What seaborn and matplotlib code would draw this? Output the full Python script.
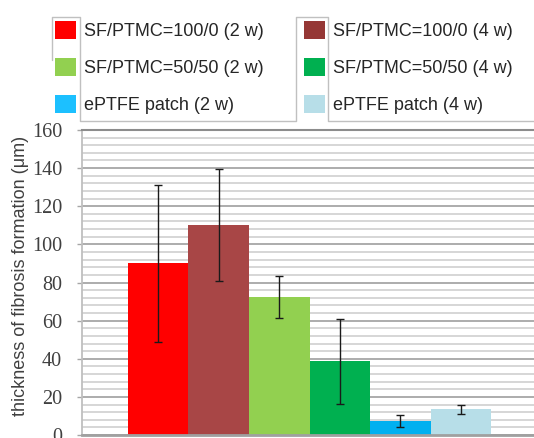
import matplotlib
matplotlib.use("Agg")
import matplotlib.pyplot as plt
from matplotlib.patches import Patch
from matplotlib.lines import Line2D
from matplotlib.ticker import MultipleLocator
import seaborn as sns
import pandas as pd

# Fibrosis thickness by implant material and time point
groups = [
    "SF/PTMC=100/0 (2 w)",
    "SF/PTMC=100/0 (4 w)",
    "SF/PTMC=50/50 (2 w)",
    "SF/PTMC=50/50 (4 w)",
    "ePTFE patch (2 w)",
    "ePTFE patch (4 w)",
]
thickness = [90.0, 110.2, 72.4, 38.8, 7.3, 13.6]
sd = [41.0, 29.5, 11.0, 22.3, 3.2, 2.4]
y_ticks = [0, 20, 40, 60, 80, 100, 120, 140, 160]

bar_colors = ["#FF0000", "#A84646", "#92D050", "#00B050", "#00B0F0", "#B7DEE8"]
legend_colors = ["#FF0000", "#953735", "#92D050", "#00B050", "#1CC0FF", "#B7DEE8"]

sns.set_style("white")
plt.rcParams["font.family"] = ["Liberation Sans", "DejaVu Sans"]

W, H = 534, 438
fig = plt.figure(figsize=(W / 100, H / 100), dpi=100)
ax = fig.add_axes([82 / W, 3 / H, 455 / W, 305 / H])

df = pd.DataFrame({"group": groups, "thickness": thickness})
sns.barplot(data=df, x="group", y="thickness", hue="group", order=groups,
            hue_order=groups, palette=bar_colors, saturation=1, width=1.0,
            errorbar=None, legend=False, linewidth=0, ax=ax)
ax.errorbar(range(len(groups)), thickness, yerr=sd, fmt="none",
            ecolor="#1a1a1a", elinewidth=1.0, capsize=2.8, capthick=1.0, zorder=5)

ax.set_xlim(-1.26, len(groups) - 1 + 1.26)
ax.set_ylim(0, 160)
ax.set_yticks(y_ticks)
ax.yaxis.set_minor_locator(MultipleLocator(4))
ax.set_xticks([])
ax.set_xlabel("")
ax.set_axisbelow(True)
ax.grid(which="major", axis="y", color="#a6a6a6", lw=1.3)
ax.grid(which="minor", axis="y", color="#d6d6d6", lw=1.4)
ax.tick_params(axis="y", which="major", length=5 * 0.72, width=1,
               color="#a6a6a6", pad=10.8, labelsize=14.5, labelcolor="#404040",
               left=True)
ax.tick_params(axis="y", which="minor", length=0)
for lab in ax.get_yticklabels():
    lab.set_fontfamily(["Liberation Serif", "DejaVu Serif"])

ax.spines["right"].set_visible(False)
ax.spines["top"].set_color("#8c8c8c")
ax.spines["top"].set_linewidth(1.5)
ax.spines["left"].set_color("#bfbfbf")
ax.spines["left"].set_linewidth(1.3)
ax.spines["bottom"].set_color("#a0a0a0")
ax.spines["bottom"].set_linewidth(2)

ax.set_ylabel("thickness of fibrosis formation (μm)", fontsize=13, color="#404040")
ax.yaxis.set_label_coords((29 - 82) / 455, 0.52)

# Two legend columns: 2-week groups on the left, 4-week groups on the right
fs = 13
hsz = 21 / (fs * 100 / 72)
for k, x0 in ((0, 55), (1, 304)):
    handles = [Patch(facecolor=c, edgecolor="none") for c in legend_colors[k::2]]
    fig.legend(handles=handles, labels=groups[k::2], loc="upper left",
               bbox_to_anchor=(x0 / W, 1 - 21 / H), frameon=False,
               fontsize=fs, handlelength=hsz, handleheight=hsz,
               handletextpad=0.45, labelspacing=0.99, borderpad=0,
               borderaxespad=0)

# Legend frame outline
frame_px = [(52, 60), (52, 16.5), (79.5, 16.5), (79.5, 121), (296, 121),
            (296, 16.5), (328, 16.5), (328, 121), (540, 121)]
fig.add_artist(Line2D([p[0] / W for p in frame_px],
                      [1 - p[1] / H for p in frame_px],
                      transform=fig.transFigure, color="#c0c0c0", lw=1.0))

fig.savefig("out.png", dpi=100)
